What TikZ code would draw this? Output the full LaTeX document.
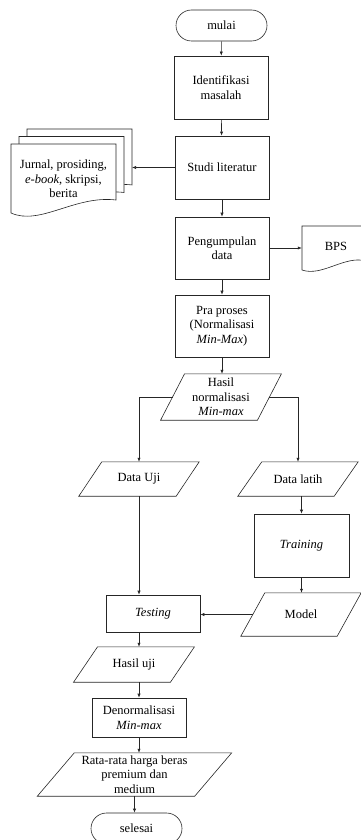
\documentclass[tikz,border=0pt]{standalone}
\usepackage{fontspec}
\setmainfont{Liberation Serif}
\usetikzlibrary{arrows.meta,calc}
\newcommand\diagfont{\fontsize{12.5pt}{14.5pt}\selectfont}
\colorlet{lc}{black!85}
\newcommand\paranode[7]{%
  \node[pnode, minimum width=#4pt, minimum height=#5pt] (#1) at (#2,#3) {#7};
  \draw[line] ($(#1.north west)+(#6/2,0)$) -- ($(#1.north east)+(#6/2,0)$)
    -- ($(#1.south east)-(#6/2,0)$) -- ($(#1.south west)-(#6/2,0)$) -- cycle;
}
\begin{document}
\begin{tikzpicture}[x=1pt,y=-1pt,
  box/.style={draw=lc, line width=0.6pt, fill=white, minimum width=94pt, align=center, inner sep=2pt, font=\diagfont},
  term/.style={box, rounded corners=15.5pt, minimum width=91pt, minimum height=31pt},
  pnode/.style={align=center, inner sep=0pt, font=\diagfont},
  line/.style={draw=lc, line width=0.6pt},
  arr/.style={line, -{Latex[length=4pt,width=3.2pt]}},
  sheet/.style={line, fill=white}]
\useasboundingbox (0,0) rectangle (361,840);

% documents (left)
\foreach \s in {16,8,0}{
  \draw[sheet, shift={(\s,-\s*0.94)}] (11,144) -- (116,144) -- (116,200)
    .. controls (75,195) and (40,226) .. (11,213) -- cycle;
}
\node[pnode] (doc) at (63.5,179) {Jurnal, prosiding,\\\textit{e-book}, skripsi,\\berita};
\coordinate (docR) at (132,160);

% BPS document
\draw[sheet] (302,226) -- (370,226) -- (370,261) -- (366,261)
  .. controls (345,255) and (322,277) .. (302,270) -- cycle;
\node[pnode, minimum width=68pt] (bps) at (336,246) {BPS};

% main column
\node[term] (mulai) at (221.5,25.5) {mulai};
\node[box, minimum height=63pt] (im) at (221,87.5) {Identifikasi\\masalah};
\node[box, minimum height=63pt] (sl) at (222,167.5) {Studi literatur};
\node[box, minimum height=62pt] (pd) at (222,248) {Pengumpulan\\data};
\node[box, minimum height=62pt] (pp) at (222,326) {Pra proses\\(Normalisasi\\\textit{Min-Max})};
\paranode{hn}{221}{397}{96.5}{46}{24}{Hasil\\normalisasi\\\textit{Min-max}}
\paranode{du}{139}{479}{97}{34}{23}{Data Uji}
\paranode{dl}{298}{479}{96}{34}{24}{Data latih}
\node[box, minimum width=95pt, minimum height=63pt] (tr) at (301.5,545.5) {\textit{Training}};
\paranode{mo}{301}{614.5}{96}{43}{24}{Model}
\node[box, minimum height=37pt] (te) at (153,613.5) {\textit{Testing}};
\paranode{hu}{134}{664.5}{96.5}{35}{24}{Hasil uji}
\node[box, minimum height=39pt] (dn) at (139,717.5) {Denormalisasi\\\textit{Min-max}};
\paranode{rr}{134.5}{774.5}{157}{43}{37}{Rata-rata harga beras\\premium dan\\medium}
\node[term] (se) at (136.5,828.5) {selesai};

% connectors
\draw[arr] (mulai) -- (im);
\draw[arr] (im) -- (sl);
\draw[arr] (sl.west) -- (sl.west -| docR);
\draw[arr] (sl) -- (pd);
\draw[arr] (pd.east) -- (pd.east -| bps.west);
\draw[arr] (pd) -- (pp);
\draw[arr] (pp.south) -- (pp.south |- hn.north);
\draw[arr] (hn.west) -| (du.north);
\draw[arr] (hn.east) -| (dl.north);
\draw[arr] (tr.north |- dl.south) -- (tr.north);
\draw[arr] (tr.south) -- (tr.south |- mo.north);
\draw[arr] (mo.west) -- (mo.west -| te.east);
\draw[arr] (du.south) -- (du.south |- te.north);
\draw[arr] (te.south -| du.south) -- (hu.north -| du.south);
\draw[arr] (hu.south -| dn.north) -- (dn.north);
\draw[arr] (dn.south) -- (dn.south |- rr.north);
\draw[arr] (rr.south) -- (rr.south |- se.north);
\end{tikzpicture}
\end{document}
